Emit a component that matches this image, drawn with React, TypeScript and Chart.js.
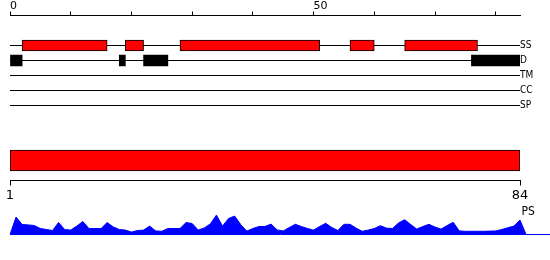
import React, { useEffect, useRef } from 'react';
import { Chart, registerables } from 'chart.js';

Chart.register(...registerables);

// ---- data ----
const SEQ_LEN = 84;
const TRACKS = ['SS', 'D', 'TM', 'CC', 'SP'];
const SS_SPANS: number[][] = [[2, 16], [19, 22], [28, 51], [56, 60], [65, 77]];
const D_SPANS: number[][] = [[0, 2], [18, 19], [22, 26], [76, 84]];
const TOP_TICK_STEP = 10;
const TOP_LABEL_EVERY = 50;
const DOMAIN_SPAN = [1, 84];
const DOMAIN_TICKS = [1, 84];
const PS_LABEL = 'PS';
const PS_VALUES = [
  0.87, 0.50, 0.48, 0.45, 0.30, 0.25, 0.20, 0.60, 0.25, 0.22,
  0.42, 0.65, 0.30, 0.30, 0.30, 0.60, 0.38, 0.25, 0.22, 0.12,
  0.20, 0.22, 0.42, 0.18, 0.16, 0.30, 0.30, 0.30, 0.60, 0.55,
  0.22, 0.33, 0.53, 0.97, 0.42, 0.80, 0.92, 0.50, 0.17, 0.30,
  0.40, 0.40, 0.52, 0.23, 0.18, 0.35, 0.51, 0.40, 0.30, 0.22,
  0.40, 0.56, 0.35, 0.20, 0.51, 0.51, 0.32, 0.16, 0.22, 0.30,
  0.44, 0.32, 0.30, 0.58, 0.74, 0.50, 0.27, 0.40, 0.51, 0.37,
  0.27, 0.45, 0.61, 0.18, 0.16, 0.16, 0.16, 0.16, 0.17, 0.18,
  0.25, 0.34, 0.42, 0.72,
];

const NUM_FONT = 'DejaVu Sans';
const COND_FONT = "'DejaVu Sans Condensed', 'DejaVu Sans'";

const noPad = (s: any) => {
  s.paddingTop = 0;
  s.paddingBottom = 0;
  s.paddingLeft = 0;
  s.paddingRight = 0;
};

export default function App() {
  const trackRef = useRef<HTMLCanvasElement>(null);
  const domRef = useRef<HTMLCanvasElement>(null);
  const psRef = useRef<HTMLCanvasElement>(null);

  useEffect(() => {
    const charts: Chart[] = [];
    const base: any = {
      animation: false,
      responsive: false,
      devicePixelRatio: 1,
      plugins: { legend: { display: false }, tooltip: { enabled: false } },
      events: [],
    };

    // ---- tracks chart ----
    const ssRow = TRACKS.indexOf('SS');
    const dRow = TRACKS.indexOf('D');
    charts.push(
      new Chart(trackRef.current!, {
        type: 'bar',
        data: {
          datasets: [
            {
              type: 'bar',
              grouped: false,
              data: SS_SPANS.map((s) => ({ x: s, y: ssRow })),
              backgroundColor: '#ff0000',
              borderColor: '#000000',
              borderWidth: 1,
              borderSkipped: false,
              barThickness: 11,
            } as any,
            {
              type: 'bar',
              grouped: false,
              data: D_SPANS.map((s) => ({ x: s, y: dRow })),
              backgroundColor: '#000000',
              borderWidth: 0,
              barThickness: 11,
            } as any,
            ...TRACKS.map((t, i) => ({
              type: 'line',
              data: [{ x: 0, y: i }, { x: SEQ_LEN, y: i }],
              borderColor: '#000000',
              borderWidth: 1,
              pointRadius: 0,
              fill: false,
            })),
          ] as any,
        },
        options: {
          ...base,
          indexAxis: 'y',
          layout: { padding: { left: 10, top: 0, right: 0, bottom: 0 } },
          scales: {
            x: {
              type: 'linear',
              position: 'top',
              offset: false,
              grace: 0,
              min: 0,
              max: SEQ_LEN,
              grid: { drawOnChartArea: false, tickLength: 4, color: '#000000', offset: false },
              border: { color: '#000000', width: 1 },
              ticks: {
                stepSize: TOP_TICK_STEP,
                includeBounds: false,
                align: 'start',
                padding: -1.5,
                maxRotation: 0,
                autoSkip: false,
                color: '#000000',
                font: { family: NUM_FONT, size: 11 },
                callback: (v: any) => (Number(v) % TOP_LABEL_EVERY === 0 ? String(v) : ''),
              },
              afterFit: (s: any) => { noPad(s); s.height = 15.5; },
            },
            y: {
              type: 'linear',
              position: 'right',
              offset: false,
              grace: 0,
              reverse: true,
              min: -2,
              max: TRACKS.length - 0.5,
              grid: { display: false, drawTicks: false, offset: false },
              border: { display: false },
              ticks: {
                stepSize: 1,
                includeBounds: false,
                padding: 0,
                autoSkip: false,
                color: '#000000',
                font: { family: COND_FONT, size: 10 },
                callback: (v: any) => {
                  const n = Number(v);
                  return Number.isInteger(n) && n >= 0 && n < TRACKS.length ? TRACKS[n] : '';
                },
              },
              afterFit: (s: any) => { noPad(s); s.width = 30; },
            },
          },
        } as any,
      })
    );

    // ---- domain chart ----
    charts.push(
      new Chart(domRef.current!, {
        type: 'bar',
        data: {
          datasets: [
            {
              grouped: false,
              data: [{ x: DOMAIN_SPAN, y: 1 }],
              backgroundColor: '#ff0000',
              borderColor: '#000000',
              borderWidth: 1,
              borderSkipped: false,
              barThickness: 21,
            } as any,
          ],
        },
        options: {
          ...base,
          indexAxis: 'y',
          layout: { padding: { left: 10, top: 0.5, right: 30, bottom: 0 } },
          scales: {
            x: {
              type: 'linear',
              position: 'bottom',
              offset: false,
              min: DOMAIN_TICKS[0],
              max: DOMAIN_TICKS[DOMAIN_TICKS.length - 1],
              grid: { drawOnChartArea: false, tickLength: 5, color: '#000000' },
              border: { color: '#000000', width: 1 },
              ticks: {
                padding: 2.5,
                maxRotation: 0,
                autoSkip: false,
                color: '#000000',
                font: { family: NUM_FONT, size: 13 },
              },
              afterBuildTicks: (s: any) => { s.ticks = DOMAIN_TICKS.map((v) => ({ value: v })); },
              afterFit: (s: any) => { noPad(s); s.height = 24.5; },
            },
            y: { type: 'linear', offset: false, min: 0, max: 2, display: false },
          },
        } as any,
      })
    );

    // ---- PS area chart ----
    const psData = [
      { x: 0, y: 0 },
      ...PS_VALUES.map((v, i) => ({ x: i + 1, y: v })),
      { x: SEQ_LEN + 1, y: 0 },
    ];
    charts.push(
      new Chart(psRef.current!, {
        type: 'line',
        data: {
          datasets: [
            {
              data: psData,
              fill: 'origin',
              backgroundColor: '#0000ff',
              borderColor: '#0000ff',
              borderWidth: 1,
              pointRadius: 0,
              tension: 0,
            } as any,
          ],
        },
        options: {
          ...base,
          layout: { padding: { left: 10, top: 14.5, right: 0, bottom: 0 } },
          scales: {
            x: {
              type: 'linear',
              min: 0,
              max: (SEQ_LEN * 540) / 510,
              grid: { display: false, drawTicks: false },
              border: { color: '#0000ff', width: 1 },
              ticks: { display: false },
              afterFit: (s: any) => { noPad(s); s.height = 25.5; },
            },
            y: { type: 'linear', min: 0, max: 1, display: false },
          },
        } as any,
        plugins: [
          {
            id: 'psLabel',
            afterDraw(chart: any) {
              const { ctx, chartArea } = chart;
              const xs = chart.scales.x;
              ctx.save();
              ctx.font = `12px ${COND_FONT}`;
              ctx.fillStyle = '#000000';
              ctx.textAlign = 'left';
              ctx.textBaseline = 'alphabetic';
              ctx.fillText(PS_LABEL, xs.getPixelForValue(SEQ_LEN) + 1.5, chartArea.top + 0.5);
              ctx.restore();
            },
          },
        ],
      })
    );

    return () => charts.forEach((c) => c.destroy());
  }, []);

  const cv = (top: number, h: number): React.CSSProperties => ({
    position: 'absolute',
    left: 0,
    top,
    width: 550,
    height: h,
  });

  return (
    <div style={{ position: 'absolute', left: 0, top: 0, width: 550, height: 260, background: '#ffffff', overflow: 'hidden' }}>
      <canvas ref={trackRef} width={550} height={113} style={cv(0, 113)} />
      <canvas ref={domRef} width={550} height={65} style={cv(140, 65)} />
      <canvas ref={psRef} width={550} height={60} style={cv(200, 60)} />
    </div>
  );
}
